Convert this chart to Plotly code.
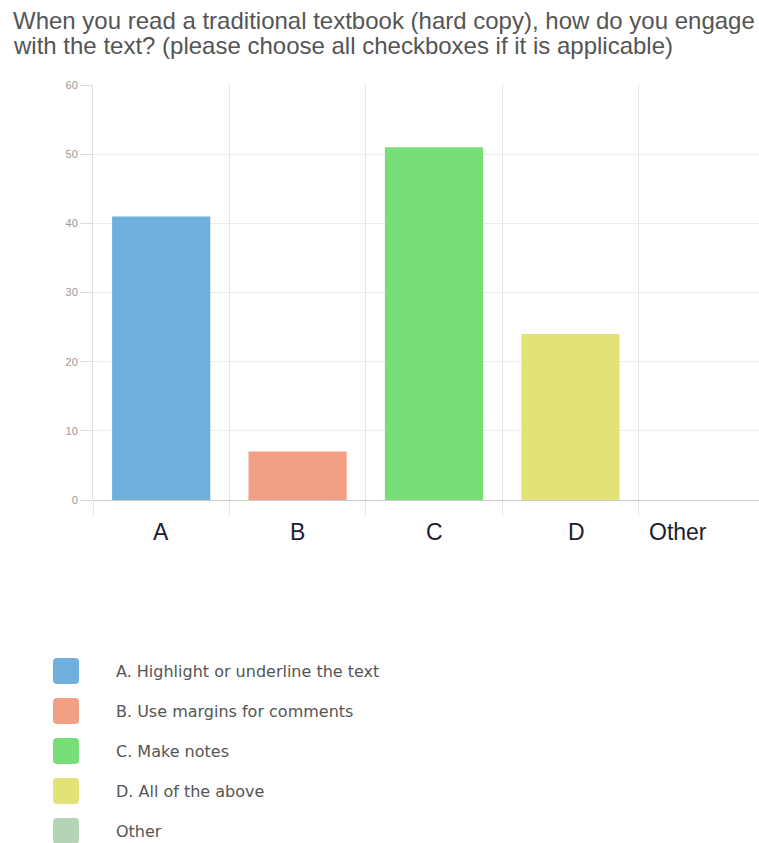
import plotly.graph_objects as go

# Survey responses per option
categories = ["A", "B", "C", "D", "Other"]
counts = [41, 7, 51, 24, 0]
tick_labels = ["A", "B", "C", "D", "Other"]
legend_labels = [
    "A. Highlight or underline the text",
    "B. Use margins for comments",
    "C. Make notes",
    "D. All of the above",
    "Other",
]
bar_colors = ["#6fb0dc", "#f1a085", "#78de78", "#e2e377", "#b5d4b5"]
y_ticks = [0, 10, 20, 30, 40, 50, 60]
title_lines = [
    "When you read a traditional textbook (hard copy), how do you engage",
    "with the text? (please choose all checkboxes if it is applicable)",
]

W, H = 759, 843
ML, MR, MT, MB = 93, 0, 85, 343
plot_w = W - ML - MR
plot_h = H - MT - MB
cat_px = 136.4  # pixel width of one category band


def px_to_paper_x(px):
    return (px - ML) / plot_w


def px_to_paper_y(py):
    return (H - MB - py) / plot_h


fig = go.Figure(
    go.Bar(
        x=categories,
        y=counts,
        marker=dict(color=bar_colors, line=dict(width=0)),
        width=0.72,
        hoverinfo="x+y",
    )
)

x_max = -0.5 + plot_w / cat_px

fig.update_layout(
    width=W,
    height=H,
    margin=dict(l=ML, r=MR, t=MT, b=MB, pad=0),
    paper_bgcolor="white",
    plot_bgcolor="white",
    showlegend=False,
    font=dict(family="Liberation Sans, Arial, sans-serif"),
    xaxis=dict(
        type="category",
        range=[-0.5, x_max],
        tickson="boundaries",
        showgrid=True,
        gridcolor="#e6e6e6",
        gridwidth=1,
        ticks="outside",
        ticklen=14,
        tickcolor="#e6e6e6",
        showticklabels=False,
        showline=False,
        zeroline=False,
        fixedrange=True,
    ),
    yaxis=dict(
        range=[0, 60],
        tickvals=y_ticks,
        showgrid=True,
        gridcolor="#ececec",
        gridwidth=1,
        ticks="outside",
        ticklen=12,
        tickcolor="#dcdcdc",
        tickfont=dict(size=11, color="#999999"),
        showline=True,
        linecolor="#dddddd",
        linewidth=1,
        zeroline=True,
        zerolinecolor="#cccccc",
        zerolinewidth=1,
        fixedrange=True,
    ),
)

annotations = []

# Title, one annotation per line
for i, line in enumerate(title_lines):
    annotations.append(
        dict(
            text=line,
            xref="paper",
            yref="paper",
            x=px_to_paper_x(11),
            y=px_to_paper_y(21 + 25 * i),
            xanchor="left",
            yanchor="middle",
            showarrow=False,
            font=dict(size=24, color="#555555"),
        )
    )

# Category labels under the axis
label_nudge = {"D": 6, "Other": -29}
for cat, lab in zip(categories, tick_labels):
    annotations.append(
        dict(
            text=lab,
            x=cat,
            y=0,
            xref="x",
            yref="y",
            xanchor="center",
            yanchor="middle",
            yshift=-32,
            xshift=label_nudge.get(cat, 0),
            showarrow=False,
            font=dict(size=23, color="#1c1c2c"),
        )
    )

# Legend: rounded swatches with labels
shapes = []
r, h = 4, 13
swatch_path = (
    f"M {-h + r},{-h} L {h - r},{-h} Q {h},{-h} {h},{-h + r} "
    f"L {h},{h - r} Q {h},{h} {h - r},{h} L {-h + r},{h} "
    f"Q {-h},{h} {-h},{h - r} L {-h},{-h + r} Q {-h},{-h} {-h + r},{-h} Z"
)
for i, (lab, col) in enumerate(zip(legend_labels, bar_colors)):
    cy = 671 + 40 * i
    shapes.append(
        dict(
            type="path",
            xref="paper",
            yref="paper",
            xsizemode="pixel",
            ysizemode="pixel",
            xanchor=px_to_paper_x(66),
            yanchor=px_to_paper_y(cy),
            path=swatch_path,
            fillcolor=col,
            line=dict(width=0),
            layer="above",
        )
    )
    annotations.append(
        dict(
            text=lab,
            xref="paper",
            yref="paper",
            x=px_to_paper_x(114),
            y=px_to_paper_y(cy),
            xanchor="left",
            yanchor="middle",
            showarrow=False,
            font=dict(family="DejaVu Sans, sans-serif", size=16, color="#555555"),
        )
    )

fig.update_layout(annotations=annotations, shapes=shapes)

fig.write_html("out.html", include_plotlyjs=True, config={"displayModeBar": False})
